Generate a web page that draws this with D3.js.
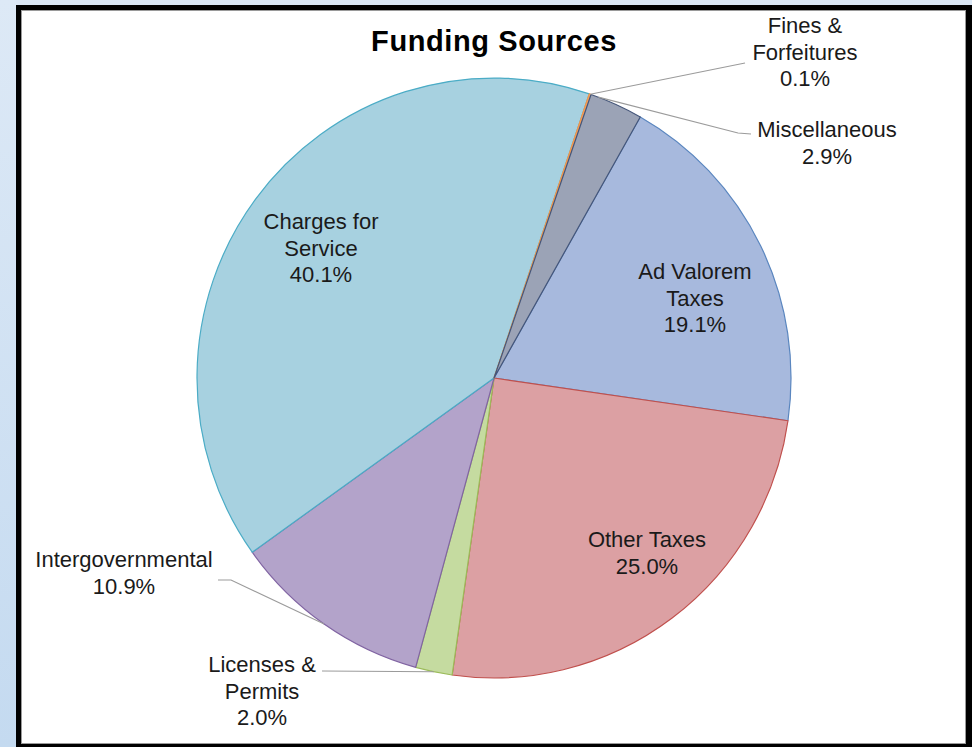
<!DOCTYPE html>
<html><head><meta charset="utf-8">
<script src="https://cdn.jsdelivr.net/npm/d3@7"></script>
<style>html,body{margin:0;padding:0;background:#dae7f5;}svg{display:block;}</style>
</head><body>
<svg id="chart" width="972" height="747"></svg>
<script>
// ---- data ----
const categories = ["Ad Valorem Taxes","Other Taxes","Licenses & Permits","Intergovernmental","Charges for Service","Fines & Forfeitures","Miscellaneous"];
const values = [19.1, 25.0, 2.0, 10.9, 40.1, 0.1, 2.9];
const labelLines = [
  ["Ad Valorem","Taxes","19.1%"],
  ["Other Taxes","25.0%"],
  ["Licenses &","Permits","2.0%"],
  ["Intergovernmental","10.9%"],
  ["Charges for","Service","40.1%"],
  ["Fines &","Forfeitures","0.1%"],
  ["Miscellaneous","2.9%"]
];
const fills = ["#a7b9dd","#dca0a3","#c5dba0","#b3a3ca","#a7d1e0","#f2a46a","#9ba3b6"];
const strokes = ["#5a86bf","#c0504d","#9bbb59","#8064a2","#4bacc6","#f79646","#45567a"];

// ---- layout ----
const W = 972, H = 747;
const cx = 494, cy = 378, R = 297, yStretch = 1.01;
const startDeg = 29.5;
const labelAnchor = [ // [centre x, first baseline y]
  [695, 279],[647, 547],[262, 672],[124, 567],[321, 229],[805, 33],[827, 137]
];
const lineH = 26.5;

const svg = d3.select("#chart");
const defs = svg.append("defs");
const g1 = defs.append("linearGradient").attr("id","bgL").attr("x1",0).attr("y1",0).attr("x2",0).attr("y2",1);
g1.append("stop").attr("offset","0%").attr("stop-color","#dde9f6");
g1.append("stop").attr("offset","100%").attr("stop-color","#c4daf0");
svg.append("rect").attr("width",W).attr("height",H).attr("fill","#dbe7f5");
svg.append("rect").attr("x",0).attr("y",0).attr("width",16).attr("height",H).attr("fill","url(#bgL)");
// frame
svg.append("rect").attr("x",16).attr("y",5).attr("width",W-16).attr("height",H-5).attr("fill","#000");
svg.append("rect").attr("x",21.5).attr("y",10.5).attr("width",944).attr("height",733).attr("fill","#fff").attr("stroke","#9a9a9a").attr("stroke-width",1);

// title
svg.append("text").attr("x",cx).attr("y",51).attr("text-anchor","middle")
  .attr("font-family","'Liberation Sans', Arial, sans-serif").attr("font-weight","bold")
  .attr("font-size",29).attr("letter-spacing",0.6).attr("fill","#000").text("Funding Sources");

const data = categories.map((c,i)=>({name:c, value:values[i], i}));
const total = d3.sum(values);
const rad = d=>d*Math.PI/180;
const pie = d3.pie().sort(null).value(d=>d.value)
  .startAngle(rad(startDeg)).endAngle(rad(startDeg)+2*Math.PI);
const arcs = pie(data);
const arc = d3.arc().innerRadius(0).outerRadius(R);

const pg = svg.append("g").attr("transform",`translate(${cx},${cy}) scale(1,${yStretch})`);
pg.selectAll("path").data(arcs).enter().append("path")
  .attr("d",arc).attr("fill",d=>fills[d.data.i]).attr("stroke",d=>strokes[d.data.i])
  .attr("stroke-width",1.2).attr("vector-effect","non-scaling-stroke").attr("stroke-linejoin","round");

// helpers
const edge = (angRad, r=R)=>[cx + r*Math.sin(angRad), cy - r*Math.cos(angRad)*yStretch];
const mid = a => (a.startAngle + a.endAngle)/2;

// leader lines
const leaders = [
  {i:5, pts: a=>[edge(mid(a)), [745,63]]},
  {i:6, pts: a=>[edge(a.startAngle+rad(1.5)), [738,133], [751,134]]},
  {i:3, pts: a=>[[218,580],[231,580], edge(mid(a))]},
  {i:2, pts: a=>[[322,671], edge(mid(a))]}
];
const line = d3.line();
leaders.forEach(l=>{
  svg.append("path").attr("d", line(l.pts(arcs[l.i]))).attr("fill","none")
    .attr("stroke","#9b9b9b").attr("stroke-width",1.1);
});

// labels
arcs.forEach((a,k)=>{
  const [x,y] = labelAnchor[k];
  const t = svg.append("text").attr("text-anchor","middle")
    .attr("font-family","'Liberation Sans', Arial, sans-serif").attr("font-size",22)
    .attr("fill","#1a1a1a");
  labelLines[k].forEach((s,j)=>{
    t.append("tspan").attr("x",x).attr("y",y + j*lineH).text(s);
  });
});
</script>
</body></html>
